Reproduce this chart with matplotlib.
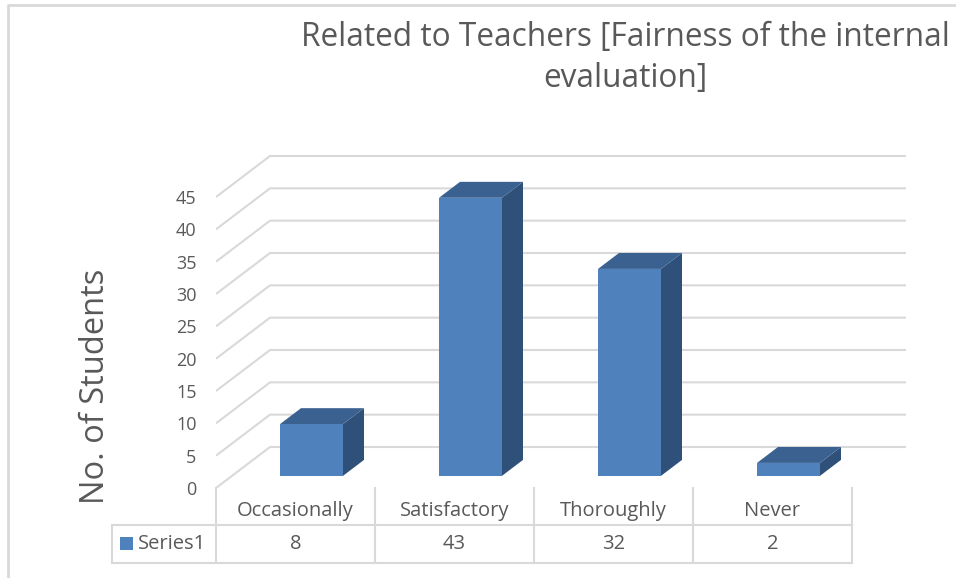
import matplotlib.pyplot as plt
from matplotlib.patches import Polygon, Rectangle
from matplotlib.lines import Line2D

# data
categories = ['Occasionally', 'Satisfactory', 'Thoroughly', 'Never']
values = [8, 43, 32, 2]
series_name = 'Series1'
yticks = [0, 5, 10, 15, 20, 25, 30, 35, 40, 45]

W, H = 956, 578
fig = plt.figure(figsize=(W / 100, H / 100), dpi=100)

# layout in pixels (front plane of the 3d box)
px_x0, px_cat = 216, 159          # x of front-left corner, pixels per category
px_y0, px_unit = 488, 291 / 45    # y of value 0, pixels per value unit
depth_px = (54, 41)               # back wall offset
Dx = depth_px[0] / px_cat
Dy = depth_px[1] / px_unit

n = len(categories)
xmax = n + Dx
ymax = 51.5
left = px_x0 / W
bottom = (H - px_y0) / H
ax = fig.add_axes([left, bottom, xmax * px_cat / W, ymax * px_unit / H])
ax.set_xlim(0, xmax)
ax.set_ylim(0, ymax)
for s in ax.spines.values():
    s.set_visible(False)
ax.set_xticks([])
ax.set_yticks(yticks)
ax.tick_params(axis='y', length=0, pad=14, labelsize=13, labelcolor='#595959')

grid_c = '#d9d9d9'
text_c = '#595959'
font = 'Open Sans'
plt.setp(ax.get_yticklabels(), family=font)

# side wall + back wall gridlines
for v in yticks:
    ax.plot([0, Dx, n + Dx], [v, v + Dy, v + Dy], color=grid_c, lw=1.5,
            solid_capstyle='butt', zorder=1)

# 3d bars
front_c, top_c, side_c = '#4f81bd', '#3a6190', '#2f5179'
bw = 63 / px_cat
z0, z1 = 16 / 54, 37 / 54
for i, v in enumerate(values):
    xl = i + 0.5 - bw / 2
    xr = i + 0.5 + bw / 2
    fx, fy = z0 * Dx, z0 * Dy
    bx, by = z1 * Dx, z1 * Dy
    ax.add_patch(Polygon([(xr + fx, fy), (xr + bx, by), (xr + bx, v + by), (xr + fx, v + fy)],
                         closed=True, fc=side_c, ec='none', zorder=3))
    ax.add_patch(Polygon([(xl + fx, v + fy), (xr + fx, v + fy), (xr + bx, v + by), (xl + bx, v + by)],
                         closed=True, fc=top_c, ec='none', zorder=3))
    ax.add_patch(Rectangle((xl + fx, fy), bw, v, fc=front_c, ec='none', zorder=4))

# data table below the plot
row1 = -(525 - px_y0) / px_unit
row2 = -(563 - px_y0) / px_unit
leg_x = (112 - px_x0) / px_cat
for k in range(n + 1):
    ax.plot([k, k], [0, row2], color=grid_c, lw=1.5, clip_on=False)
ax.plot([leg_x, n], [row1, row1], color=grid_c, lw=1.5, clip_on=False)
ax.plot([leg_x, n], [row2, row2], color=grid_c, lw=1.5, clip_on=False)
ax.plot([leg_x, leg_x], [row1, row2], color=grid_c, lw=1.5, clip_on=False)
tsize = 14.5
for i, (c, v) in enumerate(zip(categories, values)):
    ax.text(i + 0.5, -(511 - px_y0) / px_unit, c, ha='center', va='center', fontsize=tsize,
            color=text_c, family=font, clip_on=False)
    ax.text(i + 0.5, -(544 - px_y0) / px_unit, str(v), ha='center', va='center', fontsize=tsize,
            color=text_c, family=font, clip_on=False)
sq = 13 / px_cat
ax.add_patch(Rectangle(((120 - px_x0) / px_cat, -(550 - px_y0) / px_unit), sq, 13 / px_unit,
                       fc=front_c, ec='none', clip_on=False))
ax.text((138 - px_x0) / px_cat, -(544 - px_y0) / px_unit, series_name, ha='left', va='center',
        fontsize=tsize, color=text_c, family=font, clip_on=False)

# axis title and chart title
fig.text(95 / W, 1 - 386 / H, 'No. of Students', rotation=90, ha='center', va='center',
         fontsize=23.5, color=text_c, family=font)
fig.text(625 / W, 1 - 58 / H, 'Related to Teachers [Fairness of the internal\nevaluation]',
         ha='center', va='center', fontsize=22.8, color=text_c, family=font, linespacing=1.3)

# chart border (left and top visible)
fig.add_artist(Line2D([8 / W, 8 / W, 1], [0, 1 - 5 / H, 1 - 5 / H], color=grid_c, lw=2))

fig.savefig('out.png', dpi=100)
